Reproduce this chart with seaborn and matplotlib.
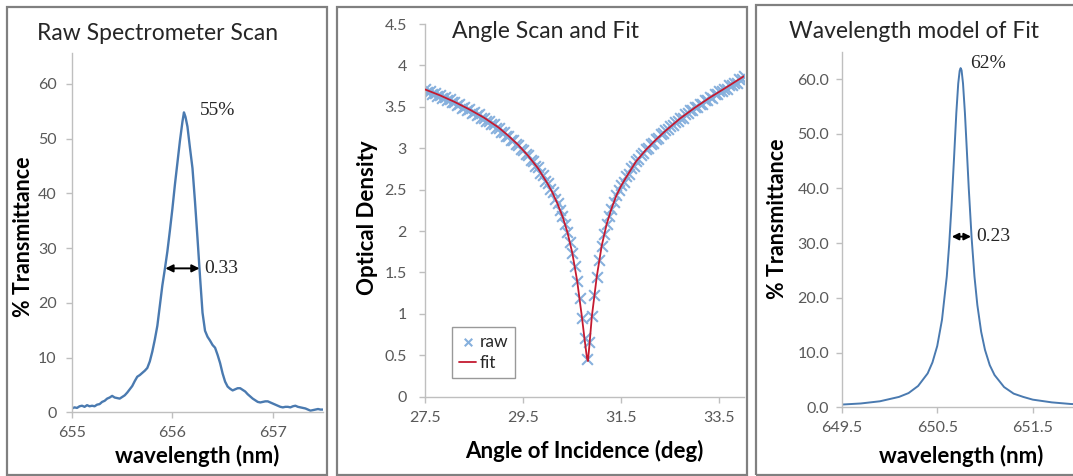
"""
plot.py
-------
Trois panneaux : scan spectromètre brut, scan angulaire + fit, modèle en longueur d'onde.
"""

import matplotlib
matplotlib.use('Agg')
import matplotlib.pyplot as plt
from matplotlib.patches import Rectangle
import seaborn as sns

# ── Données : scan spectromètre brut ─────────────────────────────────────────
scan_wl = [655.000, 655.025, 655.050, 655.075, 655.100, 655.125, 655.150, 655.175,
           655.200, 655.225, 655.250, 655.275, 655.300, 655.325, 655.350, 655.375,
           655.400, 655.425, 655.450, 655.475, 655.500, 655.525, 655.550, 655.575,
           655.600, 655.625, 655.650, 655.675, 655.700, 655.725, 655.750, 655.775,
           655.800, 655.825, 655.850, 655.875, 655.900, 655.925, 655.950, 655.975,
           656.000, 656.025, 656.050, 656.075, 656.100, 656.115, 656.130, 656.150,
           656.175, 656.200, 656.225, 656.250, 656.275, 656.300, 656.325, 656.350,
           656.375, 656.400, 656.425, 656.450, 656.475, 656.500, 656.525, 656.550,
           656.575, 656.600, 656.625, 656.650, 656.675, 656.700, 656.725, 656.750,
           656.775, 656.800, 656.825, 656.850, 656.875, 656.900, 656.925, 656.950,
           656.975, 657.000, 657.025, 657.050, 657.075, 657.100, 657.125, 657.150,
           657.175, 657.200, 657.225, 657.250, 657.275, 657.300, 657.325, 657.350,
           657.375, 657.400, 657.425, 657.450, 657.475, 657.500]
scan_t = [0.7, 0.9, 0.8, 1.1, 1.2, 1.0, 1.3, 1.1,
          1.2, 1.1, 1.4, 1.5, 1.9, 2.1, 2.5, 2.7,
          3.0, 2.7, 2.6, 2.5, 2.8, 3.1, 3.6, 4.2,
          4.8, 5.7, 6.5, 6.8, 7.2, 7.6, 8.1, 9.3,
          11.1, 13.3, 15.8, 19.5, 23.2, 26.2, 29.4, 33.2,
          37.2, 41.6, 45.6, 49.6, 53.1, 54.8, 54.0, 52.2,
          48.3, 44.6, 38.5, 31.8, 24.8, 18.2, 14.9, 13.8,
          13.1, 12.3, 11.8, 10.5, 9.0, 7.1, 5.6, 4.7,
          4.3, 4.0, 4.2, 4.4, 4.4, 4.1, 3.8, 3.3,
          2.9, 2.5, 2.2, 1.9, 1.8, 1.9, 2.0, 2.0,
          1.8, 1.6, 1.4, 1.2, 1.0, 0.9, 1.0, 1.0,
          0.9, 1.1, 1.2, 1.0, 0.9, 0.8, 0.7, 0.5,
          0.3, 0.4, 0.5, 0.6, 0.5, 0.5]

# ── Données : scan angulaire (brut + fit) ────────────────────────────────────
angle_raw = [27.50, 27.55, 27.60, 27.65, 27.70, 27.75, 27.80, 27.85, 27.90, 27.95,
             28.00, 28.05, 28.10, 28.15, 28.20, 28.25, 28.30, 28.35, 28.40, 28.45,
             28.50, 28.55, 28.60, 28.65, 28.70, 28.75, 28.80, 28.85, 28.90, 28.95,
             29.00, 29.05, 29.10, 29.15, 29.20, 29.25, 29.30, 29.35, 29.40, 29.45,
             29.50, 29.55, 29.60, 29.65, 29.70, 29.75, 29.80, 29.85, 29.90, 29.95,
             30.00, 30.05, 30.10, 30.15, 30.20, 30.25, 30.30, 30.35, 30.40, 30.45,
             30.50, 30.55, 30.60, 30.65, 30.70, 30.75, 30.80, 30.85, 30.90, 30.95,
             31.00, 31.05, 31.10, 31.15, 31.20, 31.25, 31.30, 31.35, 31.40, 31.45,
             31.50, 31.55, 31.60, 31.65, 31.70, 31.75, 31.80, 31.85, 31.90, 31.95,
             32.00, 32.05, 32.10, 32.15, 32.20, 32.25, 32.30, 32.35, 32.40, 32.45,
             32.50, 32.55, 32.60, 32.65, 32.70, 32.75, 32.80, 32.85, 32.90, 32.95,
             33.00, 33.05, 33.10, 33.15, 33.20, 33.25, 33.30, 33.35, 33.40, 33.45,
             33.50, 33.55, 33.60, 33.65, 33.70, 33.75, 33.80, 33.85, 33.90, 33.95,
             34.00]
od_raw = [3.71, 3.68, 3.69, 3.66, 3.67, 3.63, 3.64, 3.61, 3.62, 3.58,
          3.59, 3.56, 3.56, 3.52, 3.53, 3.49, 3.50, 3.46, 3.47, 3.43,
          3.44, 3.40, 3.41, 3.37, 3.37, 3.33, 3.33, 3.29, 3.29, 3.25,
          3.25, 3.20, 3.20, 3.15, 3.15, 3.10, 3.10, 3.05, 3.04, 2.99,
          2.98, 2.93, 2.92, 2.86, 2.85, 2.79, 2.77, 2.70, 2.68, 2.61,
          2.58, 2.51, 2.47, 2.39, 2.34, 2.25, 2.18, 2.09, 1.99, 1.87,
          1.74, 1.58, 1.40, 1.19, 0.95, 0.71, 0.46, 0.66, 0.98, 1.23,
          1.45, 1.65, 1.82, 1.96, 2.08, 2.18, 2.27, 2.35, 2.43, 2.49,
          2.56, 2.59, 2.66, 2.69, 2.76, 2.79, 2.85, 2.87, 2.92, 2.94,
          2.99, 3.00, 3.05, 3.06, 3.11, 3.12, 3.17, 3.18, 3.22, 3.23,
          3.27, 3.28, 3.32, 3.33, 3.37, 3.37, 3.41, 3.42, 3.46, 3.46,
          3.50, 3.50, 3.54, 3.54, 3.58, 3.58, 3.62, 3.61, 3.65, 3.65,
          3.69, 3.69, 3.72, 3.72, 3.76, 3.76, 3.79, 3.79, 3.83, 3.83,
          3.87]
angle_fit = [27.5, 27.8, 28.1, 28.4, 28.7, 29.0, 29.2, 29.4, 29.6, 29.8, 30.0,
             30.1, 30.2, 30.3, 30.4, 30.5, 30.6, 30.7, 30.75, 30.8, 30.82, 30.85,
             30.9, 31.0, 31.1, 31.2, 31.3, 31.4, 31.5, 31.6, 31.8, 32.0, 32.2,
             32.4, 32.7, 33.0, 33.3, 33.6, 34.0]
od_fit = [3.71, 3.64, 3.56, 3.47, 3.37, 3.25, 3.15, 3.04, 2.91, 2.76, 2.57,
          2.46, 2.33, 2.18, 1.99, 1.74, 1.40, 0.95, 0.70, 0.47, 0.43, 0.62,
          0.97, 1.45, 1.82, 2.08, 2.27, 2.43, 2.55, 2.65, 2.84, 2.98, 3.10,
          3.21, 3.36, 3.49, 3.61, 3.72, 3.87]

# ── Données : modèle en longueur d'onde ──────────────────────────────────────
model_wl = [649.50, 649.70, 649.90, 650.10, 650.20, 650.30, 650.40, 650.45,
            650.50, 650.55, 650.60, 650.625, 650.65, 650.675, 650.70, 650.72,
            650.735, 650.745, 650.755, 650.77, 650.79, 650.81, 650.83, 650.86,
            650.89, 650.92, 650.96, 651.00, 651.05, 651.10, 651.20, 651.30,
            651.40, 651.50, 651.70, 651.90, 652.00]
model_t = [0.5, 0.7, 1.1, 1.9, 2.6, 3.9, 6.2, 8.2,
           11.2, 16.0, 23.9, 29.7, 36.9, 45.2, 53.8, 59.2,
           61.5, 62.0, 61.6, 59.2, 53.8, 47.0, 40.1, 31.0,
           23.9, 18.7, 13.8, 10.5, 7.7, 5.9, 3.7, 2.5,
           1.9, 1.4, 0.9, 0.6, 0.55]

# ── Style ────────────────────────────────────────────────────────────────────
sns.set_theme(style='white')
plt.rcParams['font.family'] = ['Lato', 'DejaVu Sans']

W, H = 1073, 476
LINE_BLUE = '#4a7ab0'
TICK_GREY = '#bfbfbf'
LABEL_GREY = '#595959'
SERIF = ['Liberation Serif', 'DejaVu Serif']

fig = plt.figure(figsize=(W / 100, H / 100), dpi=100)
fig.patch.set_facecolor('white')

# cadres gris autour des trois panneaux
for x0, x1, y0 in [(7, 327, 7), (337, 747, 7), (756, 1090, 5)]:
    fig.patches.append(Rectangle((x0 / W, 1 - 475 / H), (x1 - x0) / W, (475 - y0) / H,
                                 transform=fig.transFigure, fill=False,
                                 ec='#808080', lw=1.6, zorder=0))


def px_axes(left, bottom, right, top):
    return fig.add_axes([left / W, 1 - bottom / H, (right - left) / W, (bottom - top) / H])


def style_axes(ax, xpad=5, ypad=8):
    sns.despine(ax=ax)
    for side in ['left', 'bottom']:
        ax.spines[side].set_color(TICK_GREY)
        ax.spines[side].set_linewidth(1.0)
    ax.tick_params(bottom=True, left=True, direction='out', length=4, width=1,
                   color=TICK_GREY, labelcolor=LABEL_GREY, labelsize=11.5)
    ax.tick_params(axis='x', pad=xpad)
    ax.tick_params(axis='y', pad=ypad)
    ax.grid(False)
    ax.set_facecolor('white')


# ── Panneau 1 : scan brut ────────────────────────────────────────────────────
ax1 = px_axes(72, 412.3, 323, 53.3)
sns.lineplot(x=scan_wl, y=scan_t, ax=ax1, color=LINE_BLUE, lw=1.7)
ax1.set_xlim(655, 657.5)
ax1.set_ylim(0, 65.6)
ax1.set_xticks([655, 656, 657])
ax1.set_xticklabels(['655', '656', '657'])
ax1.set_yticks([0, 10, 20, 30, 40, 50, 60])
ax1.set_yticklabels(['0', '10', '20', '30', '40', '50', '60'])
style_axes(ax1, xpad=6, ypad=7)
ax1.set_xlabel('wavelength (nm)', fontsize=16, fontweight='bold', color='black', va='baseline')
ax1.xaxis.set_label_coords(0.5, -0.14)
ax1.set_ylabel('% Transmittance', fontsize=15.5, fontweight='bold', color='black', va='center')
ax1.yaxis.set_label_coords(-0.195, 0.49)
ax1.annotate('', xy=(655.93, 26.3), xytext=(656.27, 26.3),
             arrowprops=dict(arrowstyle='<|-|>', color='black', lw=1.4, mutation_scale=11,
                             shrinkA=0, shrinkB=0))
ax1.text(656.32, 26.3, '0.33', fontsize=14, family=SERIF, va='center', ha='left')
ax1.text(656.27, 54.4, '55%', fontsize=14, family=SERIF, va='baseline', ha='left')
fig.text(158 / W, 1 - 40 / H, 'Raw Spectrometer Scan', fontsize=16.5, color='#262626',
         ha='center', va='baseline')

# ── Panneau 2 : scan angulaire et fit ────────────────────────────────────────
ax2 = px_axes(425, 396.7, 744, 24)
sns.scatterplot(x=angle_raw, y=od_raw, ax=ax2, marker='x', s=60, color='#86b0dd',
                linewidth=1.5, label='raw', zorder=2)
sns.lineplot(x=angle_fit, y=od_fit, ax=ax2, color='#c41a30', lw=1.3, label='fit', zorder=3)
ax2.set_xlim(27.5, 34.0)
ax2.set_ylim(0, 4.5)
ax2.set_xticks([27.5, 29.5, 31.5, 33.5])
ax2.set_xticklabels(['27.5', '29.5', '31.5', '33.5'])
ax2.set_yticks([0, 0.5, 1, 1.5, 2, 2.5, 3, 3.5, 4, 4.5])
ax2.set_yticklabels(['0', '0.5', '1', '1.5', '2', '2.5', '3', '3.5', '4', '4.5'])
style_axes(ax2, xpad=6, ypad=9)
ax2.set_xlabel('Angle of Incidence (deg)', fontsize=16, fontweight='bold', color='black',
               va='baseline')
ax2.xaxis.set_label_coords(0.5, -0.165)
ax2.set_ylabel('Optical Density', fontsize=16, fontweight='bold', color='black', va='center')
ax2.yaxis.set_label_coords(-0.18, 0.48)
leg = ax2.legend(loc='lower left', bbox_to_anchor=(0.085, 0.05), frameon=True, fancybox=False,
                 fontsize=12.5, handlelength=1.0, handletextpad=0.2, borderpad=0.4,
                 labelspacing=0.3, borderaxespad=0, markerscale=0.7)
leg.get_frame().set_edgecolor('#808080')
leg.get_frame().set_linewidth(1.0)
fig.text(546 / W, 1 - 38 / H, 'Angle Scan and Fit', fontsize=16.5, color='#262626',
         ha='center', va='baseline')

# ── Panneau 3 : modèle en longueur d'onde ────────────────────────────────────
ax3 = px_axes(841.7, 407.3, 1080.5, 51.7)
sns.lineplot(x=model_wl, y=model_t, ax=ax3, color=LINE_BLUE, lw=1.4)
ax3.set_xlim(649.5, 652.0)
ax3.set_ylim(0, 65)
ax3.set_xticks([649.5, 650.5, 651.5])
ax3.set_xticklabels(['649.5', '650.5', '651.5'])
ax3.set_yticks([0, 10, 20, 30, 40, 50, 60])
ax3.set_yticklabels(['0.0', '10.0', '20.0', '30.0', '40.0', '50.0', '60.0'])
style_axes(ax3, xpad=6, ypad=5)
ax3.set_xlabel('wavelength (nm)', fontsize=16, fontweight='bold', color='black', va='baseline')
ax3.xaxis.set_label_coords((961 - 841.7) / 238.8, -0.157)
ax3.set_ylabel('% Transmittance', fontsize=15.5, fontweight='bold', color='black', va='center')
ax3.yaxis.set_label_coords(-(841.7 - 777) / 238.8, 0.53)
ax3.annotate('', xy=(650.652, 31.2), xytext=(650.854, 31.2),
             arrowprops=dict(arrowstyle='<|-|>', color='black', lw=1.4, mutation_scale=10,
                             shrinkA=0, shrinkB=0))
ax3.text(650.91, 31.2, '0.23', fontsize=14, family=SERIF, va='center', ha='left')
ax3.text(650.84, 62.0, '62%', fontsize=14, family=SERIF, va='baseline', ha='left')
fig.text(914 / W, 1 - 38 / H, 'Wavelength model of Fit', fontsize=16.5, color='#262626',
         ha='center', va='baseline')

fig.savefig('out.png', dpi=100)
plt.close(fig)
